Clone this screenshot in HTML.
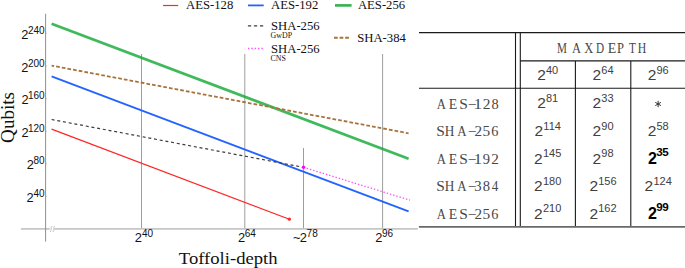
<!DOCTYPE html>
<html><head><meta charset="utf-8">
<style>
html,body{margin:0;padding:0;background:#fff;width:685px;height:268px;overflow:hidden}
svg{display:block}
.s{font-family:"Liberation Sans",sans-serif}
.r{font-family:"Liberation Serif",serif}
.m{font-family:"Liberation Mono",monospace}
</style></head><body>
<svg width="685" height="268" viewBox="0 0 685 268">
<line x1="21" y1="228.8" x2="417.8" y2="228.8" stroke="#c6c6c6" stroke-width="1.8"/>
<rect x="49.6" y="226" width="4.8" height="6" fill="#fff"/>
<path d="M50.2 232 C51.9 230.6 50.3 227.4 52 226 M52.9 232 C54.6 230.6 53 227.4 54.7 226" stroke="#b5b5b5" stroke-width="0.8" fill="none"/>
<line x1="45.6" y1="13.8" x2="45.6" y2="241.6" stroke="#8f8f8f" stroke-width="1"/>
<g stroke="#b0b0b0" stroke-width="0.8">
<line x1="45.6" y1="33.4" x2="46.9" y2="33.4"/>
<line x1="45.6" y1="66.0" x2="46.9" y2="66.0"/>
<line x1="45.6" y1="98.6" x2="46.9" y2="98.6"/>
<line x1="45.6" y1="131.2" x2="46.9" y2="131.2"/>
<line x1="45.6" y1="163.8" x2="46.9" y2="163.8"/>
<line x1="45.6" y1="196.4" x2="46.9" y2="196.4"/>
</g>
<g stroke="#9d9d9d" stroke-width="1">
<line x1="141.5" y1="54" x2="141.5" y2="228"/>
<line x1="244.8" y1="54" x2="244.8" y2="228"/>
<line x1="382.6" y1="54" x2="382.6" y2="228"/>
<line x1="303.5" y1="148" x2="303.5" y2="228"/>
</g>
<line x1="51.6" y1="23.8" x2="408.6" y2="158.8" stroke="#15a938" stroke-opacity="0.82" stroke-width="2.8"/>
<line x1="51.6" y1="76.4" x2="408.6" y2="211.4" stroke="#2563ff" stroke-width="1.9"/>
<line x1="51.6" y1="129.1" x2="289.4" y2="219.2" stroke="#ff2626" stroke-width="1.2"/>
<circle cx="289.4" cy="219.2" r="1.6" fill="#ff2626"/>
<line x1="51.6" y1="65.6" x2="408.6" y2="133.3" stroke="#a8723a" stroke-width="1.8" stroke-dasharray="3.7 2.04" stroke-dashoffset="1.1"/>
<line x1="51.6" y1="119.5" x2="303.5" y2="167.3" stroke="#3c3c3c" stroke-width="1.2" stroke-dasharray="3 2.79"/>
<line x1="303.5" y1="167.3" x2="410" y2="200.2" stroke="#ff4dff" stroke-width="1.3" stroke-dasharray="1.4 1.95"/>
<circle cx="303.5" cy="167.2" r="1.7" fill="#ff00ff"/>
<text x="21.23" y="39.00" class="s" font-size="12.8" fill="#111">2</text><text x="27.96" y="33.90" class="s" font-size="10" fill="#111">240</text>
<text x="21.23" y="71.60" class="s" font-size="12.8" fill="#111">2</text><text x="27.96" y="66.50" class="s" font-size="10" fill="#111">200</text>
<text x="21.49" y="104.20" class="s" font-size="12.8" fill="#111">2</text><text x="27.96" y="99.10" class="s" font-size="10" fill="#111">160</text>
<text x="21.49" y="136.80" class="s" font-size="12.8" fill="#111">2</text><text x="27.96" y="131.70" class="s" font-size="10" fill="#111">120</text>
<text x="26.73" y="169.40" class="s" font-size="12.8" fill="#111">2</text><text x="33.52" y="164.30" class="s" font-size="10" fill="#111">80</text>
<text x="26.52" y="202.00" class="s" font-size="12.8" fill="#111">2</text><text x="33.52" y="196.90" class="s" font-size="10" fill="#111">40</text>
<text x="134.85" y="242.1" class="s" font-size="12.9" fill="#111">2</text><text x="141.90" y="236.70" class="s" font-size="10" fill="#111">40</text>
<text x="237.95" y="242.1" class="s" font-size="12.9" fill="#111">2</text><text x="244.72" y="236.70" class="s" font-size="10" fill="#111">64</text>
<text x="375.15" y="242.1" class="s" font-size="12.9" fill="#111">2</text><text x="381.96" y="236.70" class="s" font-size="10" fill="#111">96</text>
<text x="299.85" y="242.1" class="s" font-size="12.9" fill="#111">2</text><text x="306.61" y="236.70" class="s" font-size="10" fill="#111">78</text>
<text x="293.02" y="242.1" class="s" font-size="12.9" fill="#111">~</text>
<text transform="translate(178.8,264) scale(1.06,1)" class="r" font-size="17.6" fill="#111">Toffoli-depth</text>
<text transform="translate(13.5,142.9) rotate(-90) scale(1.05,1)" class="r" font-size="18.2" fill="#111">Qubits</text>
<g stroke-width="1.2">
<line x1="163.1" y1="5.5" x2="178.2" y2="5.5" stroke="#ff2626"/>
<line x1="248" y1="5.4" x2="263.7" y2="5.4" stroke="#2563ff" stroke-width="1.8"/>
<line x1="335" y1="5.4" x2="351.6" y2="5.4" stroke="#34b150" stroke-width="2.6"/>
<line x1="247.9" y1="25.9" x2="263.5" y2="25.9" stroke="#3c3c3c" stroke-dasharray="3.3 2.7"/>
<line x1="248" y1="48.5" x2="263" y2="48.5" stroke="#ff4dff" stroke-width="1.3" stroke-dasharray="1.4 1.95"/>
<line x1="334" y1="37.8" x2="349" y2="37.8" stroke="#a8723a" stroke-width="2" stroke-dasharray="3.7 1.9"/>
</g>
<text transform="translate(186.0,9.4) scale(0.97,1)" class="r" font-size="13.1" fill="#111">AES-128</text>
<text transform="translate(271.0,9.4) scale(0.97,1)" class="r" font-size="13.1" fill="#111">AES-192</text>
<text transform="translate(357.9,9.4) scale(0.97,1)" class="r" font-size="13.1" fill="#111">AES-256</text>
<text transform="translate(271.0,30.0) scale(0.97,1)" class="r" font-size="13.1" fill="#111">SHA-256</text>
<text transform="translate(270.6,38.2) scale(0.95,1)" class="r" font-size="8.3" fill="#111">GwDP</text>
<text transform="translate(271.0,52.6) scale(0.97,1)" class="r" font-size="13.1" fill="#111">SHA-256</text>
<text transform="translate(270.6,61.4) scale(0.95,1)" class="r" font-size="8.3" fill="#111">CNS</text>
<text transform="translate(357.2,41.7) scale(0.97,1)" class="r" font-size="13.1" fill="#111">SHA-384</text>
<g stroke="#1a1a1a" stroke-width="1.1">
<line x1="419" y1="32.6" x2="685" y2="32.6"/>
<line x1="520.3" y1="60.9" x2="685" y2="60.9"/>
<line x1="419" y1="88.3" x2="685" y2="88.3"/>
<line x1="515.5" y1="32.6" x2="515.5" y2="226"/>
<line x1="520.3" y1="32.6" x2="520.3" y2="226"/>
<line x1="575.4" y1="60.9" x2="575.4" y2="226"/>
<line x1="630.8" y1="60.9" x2="630.8" y2="226"/>
</g>
<line x1="418.9" y1="226.9" x2="685" y2="226.9" stroke="#6a6a6a" stroke-width="1.9"/>
<text transform="translate(561.85,52.60) scale(0.800,1)" x="-6.22" class="r" font-size="14" fill="#484848">M</text><text transform="translate(576.55,52.60) scale(0.891,1)" x="-5.07" class="r" font-size="14" fill="#484848">A</text><text transform="translate(588.70,52.60) scale(0.890,1)" x="-5.08" class="r" font-size="14" fill="#484848">X</text><text transform="translate(599.90,52.60) scale(0.800,1)" x="-4.98" class="r" font-size="14" fill="#484848">D</text><text transform="translate(611.95,52.60) scale(0.993,1)" x="-4.13" class="r" font-size="14" fill="#484848">E</text><text transform="translate(620.50,52.60) scale(0.894,1)" x="-3.81" class="r" font-size="14" fill="#484848">P</text><text transform="translate(632.50,52.60) scale(0.806,1)" x="-4.29" class="r" font-size="14" fill="#484848">T</text><text transform="translate(641.95,52.60) scale(0.839,1)" x="-5.05" class="r" font-size="14" fill="#484848">H</text>
<text x="547.7" y="80.10" class="s" fill="#404040" text-anchor="middle"><tspan font-size="15.5">2</tspan><tspan font-size="11" dy="-6.4" dx="0.2">40</tspan></text>
<text x="603.0" y="80.10" class="s" fill="#404040" text-anchor="middle"><tspan font-size="15.5">2</tspan><tspan font-size="11" dy="-6.4" dx="0.2">64</tspan></text>
<text x="658.2" y="80.10" class="s" fill="#404040" text-anchor="middle"><tspan font-size="15.5">2</tspan><tspan font-size="11" dy="-6.4" dx="0.2">96</tspan></text>
<text transform="translate(441.25,108.50) scale(0.912,1)" x="-5.07" class="r" font-size="14" fill="#484848">A</text><text transform="translate(452.85,108.50) scale(0.993,1)" x="-4.13" class="r" font-size="14" fill="#484848">E</text><text transform="translate(463.55,108.50) scale(1.103,1)" x="-3.93" class="r" font-size="14" fill="#484848">S</text><text transform="translate(472.40,108.50) scale(1.105,1)" x="-3.95" class="r" font-size="14" fill="#484848">−</text><text transform="translate(478.10,108.50) scale(1.238,1)" x="-3.69" class="r" font-size="14" fill="#484848">1</text><text transform="translate(486.40,108.50) scale(1.105,1)" x="-3.42" class="r" font-size="14" fill="#484848">2</text><text transform="translate(495.00,108.50) scale(1.028,1)" x="-3.50" class="r" font-size="14" fill="#484848">8</text>
<text x="547.7" y="108.30" class="s" fill="#404040" text-anchor="middle"><tspan font-size="15.5">2</tspan><tspan font-size="11" dy="-6.4" dx="0.2">81</tspan></text>
<text x="603.0" y="108.30" class="s" fill="#404040" text-anchor="middle"><tspan font-size="15.5">2</tspan><tspan font-size="11" dy="-6.4" dx="0.2">33</tspan></text>
<g stroke="#333" stroke-width="1"><line x1="658.1" y1="100.8" x2="658.1" y2="107.2"/><line x1="655.3000000000001" y1="102.4" x2="660.9" y2="105.6"/><line x1="655.3000000000001" y1="105.6" x2="660.9" y2="102.4"/></g>
<text transform="translate(440.55,136.10) scale(1.103,1)" x="-3.93" class="r" font-size="14" fill="#484848">S</text><text transform="translate(449.45,136.10) scale(0.947,1)" x="-5.05" class="r" font-size="14" fill="#484848">H</text><text transform="translate(461.80,136.10) scale(0.922,1)" x="-5.07" class="r" font-size="14" fill="#484848">A</text><text transform="translate(472.40,136.10) scale(1.105,1)" x="-3.95" class="r" font-size="14" fill="#484848">−</text><text transform="translate(478.10,136.10) scale(1.087,1)" x="-3.42" class="r" font-size="14" fill="#484848">2</text><text transform="translate(486.40,136.10) scale(1.099,1)" x="-3.63" class="r" font-size="14" fill="#484848">5</text><text transform="translate(495.00,136.10) scale(1.020,1)" x="-3.59" class="r" font-size="14" fill="#484848">6</text>
<text x="547.7" y="135.90" class="s" fill="#404040" text-anchor="middle"><tspan font-size="15.5">2</tspan><tspan font-size="11" dy="-6.4" dx="0.2">114</tspan></text>
<text x="603.0" y="135.90" class="s" fill="#404040" text-anchor="middle"><tspan font-size="15.5">2</tspan><tspan font-size="11" dy="-6.4" dx="0.2">90</tspan></text>
<text x="658.2" y="135.90" class="s" fill="#404040" text-anchor="middle"><tspan font-size="15.5">2</tspan><tspan font-size="11" dy="-6.4" dx="0.2">58</tspan></text>
<text transform="translate(441.25,163.70) scale(0.912,1)" x="-5.07" class="r" font-size="14" fill="#484848">A</text><text transform="translate(452.85,163.70) scale(0.993,1)" x="-4.13" class="r" font-size="14" fill="#484848">E</text><text transform="translate(463.55,163.70) scale(1.103,1)" x="-3.93" class="r" font-size="14" fill="#484848">S</text><text transform="translate(472.40,163.70) scale(1.105,1)" x="-3.95" class="r" font-size="14" fill="#484848">−</text><text transform="translate(478.10,163.70) scale(1.238,1)" x="-3.69" class="r" font-size="14" fill="#484848">1</text><text transform="translate(486.40,163.70) scale(1.038,1)" x="-3.44" class="r" font-size="14" fill="#484848">9</text><text transform="translate(495.00,163.70) scale(1.087,1)" x="-3.42" class="r" font-size="14" fill="#484848">2</text>
<text x="547.7" y="163.50" class="s" fill="#404040" text-anchor="middle"><tspan font-size="15.5">2</tspan><tspan font-size="11" dy="-6.4" dx="0.2">145</tspan></text>
<text x="603.0" y="163.50" class="s" fill="#404040" text-anchor="middle"><tspan font-size="15.5">2</tspan><tspan font-size="11" dy="-6.4" dx="0.2">98</tspan></text>
<text x="658.2" y="163.50" class="s" fill="#000" text-anchor="middle" font-weight="bold"><tspan font-size="16">2</tspan><tspan font-size="11.6" dy="-7.3" dx="-0.6" letter-spacing="-0.3">35</tspan></text>
<text transform="translate(440.55,191.30) scale(1.103,1)" x="-3.93" class="r" font-size="14" fill="#484848">S</text><text transform="translate(449.45,191.30) scale(0.947,1)" x="-5.05" class="r" font-size="14" fill="#484848">H</text><text transform="translate(461.80,191.30) scale(0.922,1)" x="-5.07" class="r" font-size="14" fill="#484848">A</text><text transform="translate(472.40,191.30) scale(1.105,1)" x="-3.95" class="r" font-size="14" fill="#484848">−</text><text transform="translate(478.10,191.30) scale(1.055,1)" x="-3.56" class="r" font-size="14" fill="#484848">3</text><text transform="translate(486.40,191.30) scale(1.045,1)" x="-3.50" class="r" font-size="14" fill="#484848">8</text><text transform="translate(495.00,191.30) scale(0.937,1)" x="-3.53" class="r" font-size="14" fill="#484848">4</text>
<text x="547.7" y="191.10" class="s" fill="#404040" text-anchor="middle"><tspan font-size="15.5">2</tspan><tspan font-size="11" dy="-6.4" dx="0.2">180</tspan></text>
<text x="603.0" y="191.10" class="s" fill="#404040" text-anchor="middle"><tspan font-size="15.5">2</tspan><tspan font-size="11" dy="-6.4" dx="0.2">156</tspan></text>
<text x="658.2" y="191.10" class="s" fill="#404040" text-anchor="middle"><tspan font-size="15.5">2</tspan><tspan font-size="11" dy="-6.4" dx="0.2">124</tspan></text>
<text transform="translate(441.25,218.90) scale(0.912,1)" x="-5.07" class="r" font-size="14" fill="#484848">A</text><text transform="translate(452.85,218.90) scale(0.993,1)" x="-4.13" class="r" font-size="14" fill="#484848">E</text><text transform="translate(463.55,218.90) scale(1.103,1)" x="-3.93" class="r" font-size="14" fill="#484848">S</text><text transform="translate(472.40,218.90) scale(1.105,1)" x="-3.95" class="r" font-size="14" fill="#484848">−</text><text transform="translate(478.10,218.90) scale(1.087,1)" x="-3.42" class="r" font-size="14" fill="#484848">2</text><text transform="translate(486.40,218.90) scale(1.099,1)" x="-3.63" class="r" font-size="14" fill="#484848">5</text><text transform="translate(495.00,218.90) scale(1.020,1)" x="-3.59" class="r" font-size="14" fill="#484848">6</text>
<text x="547.7" y="218.70" class="s" fill="#404040" text-anchor="middle"><tspan font-size="15.5">2</tspan><tspan font-size="11" dy="-6.4" dx="0.2">210</tspan></text>
<text x="603.0" y="218.70" class="s" fill="#404040" text-anchor="middle"><tspan font-size="15.5">2</tspan><tspan font-size="11" dy="-6.4" dx="0.2">162</tspan></text>
<text x="658.2" y="218.70" class="s" fill="#000" text-anchor="middle" font-weight="bold"><tspan font-size="16">2</tspan><tspan font-size="11.6" dy="-7.3" dx="-0.6" letter-spacing="-0.3">99</tspan></text>
</svg>
</body></html>
